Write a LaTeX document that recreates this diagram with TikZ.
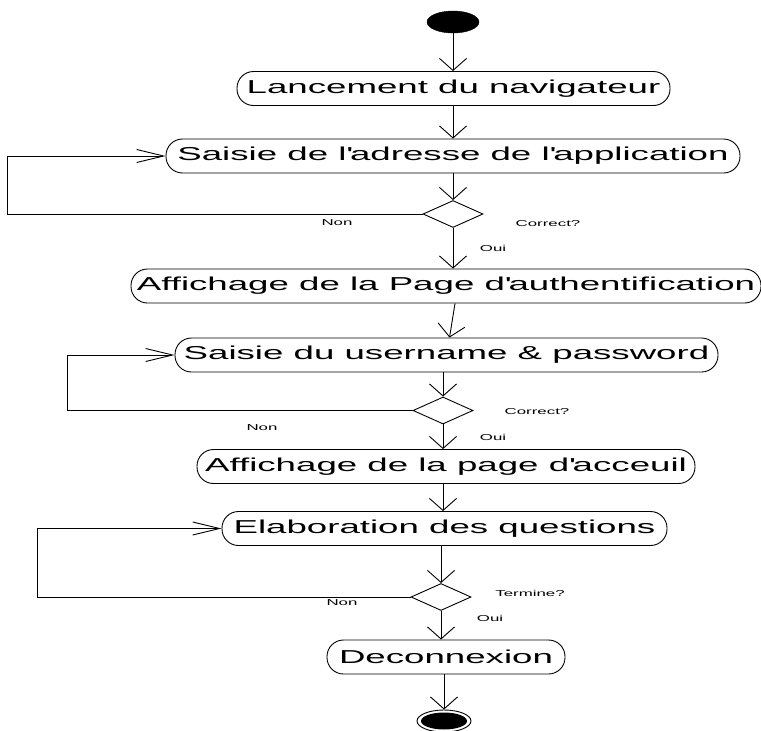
\documentclass[tikz,border=0pt]{standalone}
\usepackage{fontspec}
\setmainfont{Liberation Sans}[FakeStretch=1.96]
\usetikzlibrary{arrows.meta,shapes.geometric}
\begin{document}
\begin{tikzpicture}[x=1pt,y=-1pt,
  act/.style={draw,line width=0.9pt,rectangle,rounded corners=16.5pt,minimum height=34pt,inner sep=0pt,font=\fontsize{18.7}{20}\selectfont},
  dec/.style={draw,line width=0.9pt,diamond,minimum width=60pt,minimum height=27pt,inner sep=0pt},
  lbl/.style={inner sep=0pt,font=\fontsize{8.6}{10}\selectfont},
  varrow/.style={line width=0.9pt,-{Straight Barb[length=12pt,width=27pt,line width=0.9pt]}},
  harrow/.style={line width=0.9pt,-{Straight Barb[length=27pt,width=13pt,line width=0.9pt]}},
  ln/.style={line width=0.9pt}]
\useasboundingbox (0,0) rectangle (761,731);
% start / end
\node[ellipse,fill=black,draw,minimum width=52pt,minimum height=22pt,inner sep=0pt] (start) at (453,22) {};
\node[ellipse,draw,line width=0.9pt,minimum width=54pt,minimum height=22pt,inner sep=0pt] (fin) at (444,721) {};
\node[ellipse,fill=black,minimum width=46pt,minimum height=17pt,inner sep=0pt] (finin) at (444,721) {};
% activities
\node[act,minimum width=433pt] (b1) at (453.5,88.5) {Lancement du navigateur};
\node[act,minimum width=574pt] (b2) at (453,156) {Saisie de l\textquotesingle adresse de l\textquotesingle application};
\node[act,minimum width=630pt] (b3) at (446,286) {Affichage de la Page d\textquotesingle authentification};
\node[act,minimum width=543pt] (b4) at (446.5,355) {Saisie du username \& password};
\node[act,minimum width=498pt] (b5) at (446,466.5) {Affichage de la page d\textquotesingle acceuil};
\node[act,minimum width=445pt] (b6) at (444.5,528.5) {Elaboration des questions};
\node[act,minimum width=238pt] (b7) at (446,657) {Deconnexion};
% decisions
\node[dec] (d1) at (453,214) {};
\node[dec] (d2) at (443,410.5) {};
\node[dec] (d3) at (441,597) {};
% labels
\node[lbl] (n1) at (337,223) {Non};
\node[lbl] (c1) at (548,224) {Correct?};
\node[lbl] (o1) at (493,248) {Oui};
\node[lbl] (n2) at (262,428) {Non};
\node[lbl] (c2) at (537,412) {Correct?};
\node[lbl] (o2) at (493,437) {Oui};
\node[lbl] (n3) at (342,603) {Non};
\node[lbl] (c3) at (530,593) {Termine?};
\node[lbl] (o3) at (490,618) {Oui};
% flow
\draw[varrow] (start) -- (start |- b1.north);
\draw[varrow] (b1.south -| start) -- (start |- b2.north);
\draw[varrow] (b2.south -| d1) -- (d1.north);
\draw[varrow] (d1.south) -- (d1 |- b3.north);
\draw[varrow] ([xshift=9pt]b3.south) -- ([xshift=3pt]b4.north);
\draw[varrow] (b4.south -| d2) -- (d2.north);
\draw[varrow] (d2.south) -- (d2 |- b5.north);
\draw[varrow] (b5.south -| d2) -- (d2 |- b6.north);
\draw[varrow] (b6.south -| d3) -- (d3.north);
\draw[varrow] (d3.south) -- (d3 |- b7.north);
\draw[varrow] (b7.south -| fin) -- (fin.north);
% loops
\draw[harrow] (d1.west) -| ([xshift=-158pt]b2.west) -- (b2.west);
\draw[harrow] (d2.west) -| ([xshift=-107pt]b4.west) -- (b4.west);
\draw[harrow] (d3.west) -| ([xshift=-184pt]b6.west) -- (b6.west);
\end{tikzpicture}
\end{document}
